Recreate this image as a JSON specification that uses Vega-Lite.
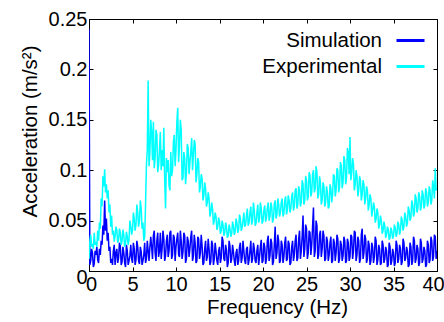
{
  "$schema": "https://vega.github.io/schema/vega-lite/v6.json",
  "width": 348,
  "height": 252,
  "autosize": {"type": "none"},
  "padding": {"left": 89, "top": 19, "right": 7, "bottom": 51},
  "background": "white",
  "config": {
    "font": "Liberation Sans",
    "view": {"stroke": "black", "strokeWidth": 1},
    "axis": {"grid": false, "domainColor": "black", "tickColor": "black", "labelColor": "black", "titleColor": "black", "labelFont": "Liberation Sans", "titleFont": "Liberation Sans", "labelFontSize": 20, "titleFontSize": 20.5, "titleFontWeight": "normal", "tickSize": -4, "labelFlush": false, "labelOverlap": false}
  },
  "data": {"values": [
    {"f":0,"Simulation":0.240,"Experimental":0.012},
    {"f":0.1,"Simulation":0.006,"Experimental":0.030},
    {"f":0.2,"Simulation":0.010,"Experimental":0.036},
    {"f":0.3,"Simulation":0.022,"Experimental":0.024},
    {"f":0.4,"Simulation":0.018,"Experimental":0.027},
    {"f":0.5,"Simulation":0.004,"Experimental":0.022},
    {"f":0.6,"Simulation":0.007,"Experimental":0.038},
    {"f":0.7,"Simulation":0.020,"Experimental":0.026},
    {"f":0.8,"Simulation":0.016,"Experimental":0.029},
    {"f":0.9,"Simulation":0.024,"Experimental":0.024},
    {"f":1.0,"Simulation":0.011,"Experimental":0.040},
    {"f":1.1,"Simulation":0.008,"Experimental":0.030},
    {"f":1.2,"Simulation":0.022,"Experimental":0.048},
    {"f":1.3,"Simulation":0.016,"Experimental":0.042},
    {"f":1.4,"Simulation":0.030,"Experimental":0.072},
    {"f":1.5,"Simulation":0.026,"Experimental":0.064},
    {"f":1.6,"Simulation":0.045,"Experimental":0.094},
    {"f":1.7,"Simulation":0.036,"Experimental":0.084},
    {"f":1.8,"Simulation":0.070,"Experimental":0.101},
    {"f":1.9,"Simulation":0.040,"Experimental":0.078},
    {"f":2.0,"Simulation":0.052,"Experimental":0.086},
    {"f":2.1,"Simulation":0.030,"Experimental":0.072},
    {"f":2.2,"Simulation":0.038,"Experimental":0.080},
    {"f":2.3,"Simulation":0.020,"Experimental":0.058},
    {"f":2.4,"Simulation":0.024,"Experimental":0.066},
    {"f":2.5,"Simulation":0.008,"Experimental":0.044},
    {"f":2.6,"Simulation":0.012,"Experimental":0.055},
    {"f":2.7,"Simulation":0.006,"Experimental":0.036},
    {"f":2.8,"Simulation":0.020,"Experimental":0.040},
    {"f":2.9,"Simulation":0.026,"Experimental":0.029},
    {"f":3.0,"Simulation":0.006,"Experimental":0.035},
    {"f":3.1,"Simulation":0.018,"Experimental":0.044},
    {"f":3.2,"Simulation":0.022,"Experimental":0.040},
    {"f":3.3,"Simulation":0.008,"Experimental":0.028},
    {"f":3.4,"Simulation":0.013,"Experimental":0.031},
    {"f":3.5,"Simulation":0.028,"Experimental":0.042},
    {"f":3.6,"Simulation":0.025,"Experimental":0.038},
    {"f":3.7,"Simulation":0.006,"Experimental":0.026},
    {"f":3.8,"Simulation":0.009,"Experimental":0.030},
    {"f":3.9,"Simulation":0.024,"Experimental":0.041},
    {"f":4.0,"Simulation":0.018,"Experimental":0.036},
    {"f":4.1,"Simulation":0.008,"Experimental":0.024},
    {"f":4.2,"Simulation":0.004,"Experimental":0.027},
    {"f":4.3,"Simulation":0.026,"Experimental":0.039},
    {"f":4.4,"Simulation":0.020,"Experimental":0.034},
    {"f":4.5,"Simulation":0.006,"Experimental":0.026},
    {"f":4.6,"Simulation":0.010,"Experimental":0.031},
    {"f":4.7,"Simulation":0.015,"Experimental":0.050},
    {"f":4.8,"Simulation":0.026,"Experimental":0.045},
    {"f":4.9,"Simulation":0.012,"Experimental":0.036},
    {"f":5.0,"Simulation":0.008,"Experimental":0.040},
    {"f":5.1,"Simulation":0.028,"Experimental":0.058},
    {"f":5.2,"Simulation":0.022,"Experimental":0.052},
    {"f":5.3,"Simulation":0.006,"Experimental":0.040},
    {"f":5.4,"Simulation":0.011,"Experimental":0.046},
    {"f":5.5,"Simulation":0.030,"Experimental":0.066},
    {"f":5.6,"Simulation":0.024,"Experimental":0.058},
    {"f":5.7,"Simulation":0.010,"Experimental":0.044},
    {"f":5.8,"Simulation":0.007,"Experimental":0.050},
    {"f":5.9,"Simulation":0.024,"Experimental":0.070},
    {"f":6.0,"Simulation":0.019,"Experimental":0.062},
    {"f":6.1,"Simulation":0.006,"Experimental":0.042},
    {"f":6.2,"Simulation":0.010,"Experimental":0.048},
    {"f":6.3,"Simulation":0.016,"Experimental":0.030},
    {"f":6.4,"Simulation":0.028,"Experimental":0.034},
    {"f":6.5,"Simulation":0.008,"Experimental":0.066},
    {"f":6.6,"Simulation":0.012,"Experimental":0.105},
    {"f":6.7,"Simulation":0.030,"Experimental":0.120},
    {"f":6.8,"Simulation":0.020,"Experimental":0.189},
    {"f":6.9,"Simulation":0.010,"Experimental":0.104},
    {"f":7.0,"Simulation":0.024,"Experimental":0.118},
    {"f":7.1,"Simulation":0.034,"Experimental":0.150},
    {"f":7.2,"Simulation":0.024,"Experimental":0.138},
    {"f":7.3,"Simulation":0.012,"Experimental":0.110},
    {"f":7.4,"Simulation":0.035,"Experimental":0.148},
    {"f":7.5,"Simulation":0.040,"Experimental":0.102},
    {"f":7.6,"Simulation":0.018,"Experimental":0.112},
    {"f":7.7,"Simulation":0.010,"Experimental":0.140},
    {"f":7.8,"Simulation":0.030,"Experimental":0.135},
    {"f":7.9,"Simulation":0.038,"Experimental":0.098},
    {"f":8.0,"Simulation":0.014,"Experimental":0.105},
    {"f":8.1,"Simulation":0.020,"Experimental":0.120},
    {"f":8.2,"Simulation":0.038,"Experimental":0.138},
    {"f":8.3,"Simulation":0.012,"Experimental":0.100},
    {"f":8.4,"Simulation":0.022,"Experimental":0.120},
    {"f":8.5,"Simulation":0.040,"Experimental":0.104},
    {"f":8.6,"Simulation":0.032,"Experimental":0.142},
    {"f":8.7,"Simulation":0.010,"Experimental":0.090},
    {"f":8.8,"Simulation":0.015,"Experimental":0.062},
    {"f":8.9,"Simulation":0.030,"Experimental":0.112},
    {"f":9.0,"Simulation":0.036,"Experimental":0.098},
    {"f":9.1,"Simulation":0.014,"Experimental":0.110},
    {"f":9.2,"Simulation":0.020,"Experimental":0.085},
    {"f":9.3,"Simulation":0.038,"Experimental":0.080},
    {"f":9.4,"Simulation":0.040,"Experimental":0.118},
    {"f":9.5,"Simulation":0.012,"Experimental":0.094},
    {"f":9.6,"Simulation":0.016,"Experimental":0.100},
    {"f":9.7,"Simulation":0.036,"Experimental":0.128},
    {"f":9.8,"Simulation":0.033,"Experimental":0.135},
    {"f":9.9,"Simulation":0.010,"Experimental":0.104},
    {"f":10.0,"Simulation":0.024,"Experimental":0.120},
    {"f":10.1,"Simulation":0.032,"Experimental":0.148},
    {"f":10.2,"Simulation":0.038,"Experimental":0.162},
    {"f":10.3,"Simulation":0.016,"Experimental":0.108},
    {"f":10.4,"Simulation":0.014,"Experimental":0.125},
    {"f":10.5,"Simulation":0.040,"Experimental":0.150},
    {"f":10.6,"Simulation":0.030,"Experimental":0.140},
    {"f":10.7,"Simulation":0.012,"Experimental":0.090},
    {"f":10.8,"Simulation":0.019,"Experimental":0.092},
    {"f":10.9,"Simulation":0.038,"Experimental":0.118},
    {"f":11.0,"Simulation":0.035,"Experimental":0.112},
    {"f":11.1,"Simulation":0.008,"Experimental":0.086},
    {"f":11.2,"Simulation":0.012,"Experimental":0.098},
    {"f":11.3,"Simulation":0.034,"Experimental":0.126},
    {"f":11.4,"Simulation":0.030,"Experimental":0.122},
    {"f":11.5,"Simulation":0.014,"Experimental":0.096},
    {"f":11.6,"Simulation":0.022,"Experimental":0.108},
    {"f":11.7,"Simulation":0.034,"Experimental":0.118},
    {"f":11.8,"Simulation":0.040,"Experimental":0.132},
    {"f":11.9,"Simulation":0.010,"Experimental":0.100},
    {"f":12.0,"Simulation":0.015,"Experimental":0.115},
    {"f":12.1,"Simulation":0.036,"Experimental":0.130},
    {"f":12.2,"Simulation":0.028,"Experimental":0.126},
    {"f":12.3,"Simulation":0.008,"Experimental":0.088},
    {"f":12.4,"Simulation":0.010,"Experimental":0.096},
    {"f":12.5,"Simulation":0.034,"Experimental":0.112},
    {"f":12.6,"Simulation":0.032,"Experimental":0.108},
    {"f":12.7,"Simulation":0.012,"Experimental":0.078},
    {"f":12.8,"Simulation":0.018,"Experimental":0.084},
    {"f":12.9,"Simulation":0.036,"Experimental":0.096},
    {"f":13.0,"Simulation":0.025,"Experimental":0.092},
    {"f":13.1,"Simulation":0.006,"Experimental":0.070},
    {"f":13.2,"Simulation":0.008,"Experimental":0.075},
    {"f":13.3,"Simulation":0.022,"Experimental":0.088},
    {"f":13.4,"Simulation":0.030,"Experimental":0.082},
    {"f":13.5,"Simulation":0.010,"Experimental":0.064},
    {"f":13.6,"Simulation":0.014,"Experimental":0.068},
    {"f":13.7,"Simulation":0.032,"Experimental":0.078},
    {"f":13.8,"Simulation":0.022,"Experimental":0.072},
    {"f":13.9,"Simulation":0.006,"Experimental":0.054},
    {"f":14.0,"Simulation":0.009,"Experimental":0.058},
    {"f":14.1,"Simulation":0.030,"Experimental":0.068},
    {"f":14.2,"Simulation":0.026,"Experimental":0.062},
    {"f":14.3,"Simulation":0.006,"Experimental":0.046},
    {"f":14.4,"Simulation":0.012,"Experimental":0.050},
    {"f":14.5,"Simulation":0.028,"Experimental":0.058},
    {"f":14.6,"Simulation":0.020,"Experimental":0.054},
    {"f":14.7,"Simulation":0.010,"Experimental":0.041},
    {"f":14.8,"Simulation":0.006,"Experimental":0.044},
    {"f":14.9,"Simulation":0.020,"Experimental":0.053},
    {"f":15.0,"Simulation":0.024,"Experimental":0.049},
    {"f":15.1,"Simulation":0.008,"Experimental":0.037},
    {"f":15.2,"Simulation":0.013,"Experimental":0.040},
    {"f":15.3,"Simulation":0.034,"Experimental":0.050},
    {"f":15.4,"Simulation":0.030,"Experimental":0.046},
    {"f":15.5,"Simulation":0.012,"Experimental":0.035},
    {"f":15.6,"Simulation":0.010,"Experimental":0.038},
    {"f":15.7,"Simulation":0.026,"Experimental":0.048},
    {"f":15.8,"Simulation":0.021,"Experimental":0.044},
    {"f":15.9,"Simulation":0.004,"Experimental":0.033},
    {"f":16.0,"Simulation":0.008,"Experimental":0.035},
    {"f":16.1,"Simulation":0.030,"Experimental":0.046},
    {"f":16.2,"Simulation":0.025,"Experimental":0.042},
    {"f":16.3,"Simulation":0.008,"Experimental":0.034},
    {"f":16.4,"Simulation":0.012,"Experimental":0.037},
    {"f":16.5,"Simulation":0.026,"Experimental":0.049},
    {"f":16.6,"Simulation":0.019,"Experimental":0.045},
    {"f":16.7,"Simulation":0.010,"Experimental":0.036},
    {"f":16.8,"Simulation":0.005,"Experimental":0.039},
    {"f":16.9,"Simulation":0.018,"Experimental":0.052},
    {"f":17.0,"Simulation":0.022,"Experimental":0.048},
    {"f":17.1,"Simulation":0.006,"Experimental":0.038},
    {"f":17.2,"Simulation":0.010,"Experimental":0.041},
    {"f":17.3,"Simulation":0.024,"Experimental":0.056},
    {"f":17.4,"Simulation":0.028,"Experimental":0.052},
    {"f":17.5,"Simulation":0.008,"Experimental":0.040},
    {"f":17.6,"Simulation":0.013,"Experimental":0.043},
    {"f":17.7,"Simulation":0.030,"Experimental":0.050},
    {"f":17.8,"Simulation":0.020,"Experimental":0.058},
    {"f":17.9,"Simulation":0.010,"Experimental":0.044},
    {"f":18.0,"Simulation":0.007,"Experimental":0.046},
    {"f":18.1,"Simulation":0.022,"Experimental":0.055},
    {"f":18.2,"Simulation":0.024,"Experimental":0.062},
    {"f":18.3,"Simulation":0.006,"Experimental":0.045},
    {"f":18.4,"Simulation":0.011,"Experimental":0.048},
    {"f":18.5,"Simulation":0.020,"Experimental":0.058},
    {"f":18.6,"Simulation":0.030,"Experimental":0.064},
    {"f":18.7,"Simulation":0.008,"Experimental":0.046},
    {"f":18.8,"Simulation":0.012,"Experimental":0.050},
    {"f":18.9,"Simulation":0.028,"Experimental":0.068},
    {"f":19.0,"Simulation":0.022,"Experimental":0.060},
    {"f":19.1,"Simulation":0.010,"Experimental":0.045},
    {"f":19.2,"Simulation":0.008,"Experimental":0.047},
    {"f":19.3,"Simulation":0.020,"Experimental":0.058},
    {"f":19.4,"Simulation":0.026,"Experimental":0.066},
    {"f":19.5,"Simulation":0.006,"Experimental":0.048},
    {"f":19.6,"Simulation":0.014,"Experimental":0.052},
    {"f":19.7,"Simulation":0.024,"Experimental":0.068},
    {"f":19.8,"Simulation":0.031,"Experimental":0.062},
    {"f":19.9,"Simulation":0.008,"Experimental":0.047},
    {"f":20.0,"Simulation":0.010,"Experimental":0.050},
    {"f":20.1,"Simulation":0.028,"Experimental":0.060},
    {"f":20.2,"Simulation":0.024,"Experimental":0.065},
    {"f":20.3,"Simulation":0.007,"Experimental":0.049},
    {"f":20.4,"Simulation":0.012,"Experimental":0.053},
    {"f":20.5,"Simulation":0.030,"Experimental":0.063},
    {"f":20.6,"Simulation":0.035,"Experimental":0.068},
    {"f":20.7,"Simulation":0.010,"Experimental":0.050},
    {"f":20.8,"Simulation":0.015,"Experimental":0.054},
    {"f":20.9,"Simulation":0.032,"Experimental":0.068},
    {"f":21.0,"Simulation":0.028,"Experimental":0.064},
    {"f":21.1,"Simulation":0.006,"Experimental":0.048},
    {"f":21.2,"Simulation":0.009,"Experimental":0.052},
    {"f":21.3,"Simulation":0.026,"Experimental":0.066},
    {"f":21.4,"Simulation":0.044,"Experimental":0.070},
    {"f":21.5,"Simulation":0.012,"Experimental":0.052},
    {"f":21.6,"Simulation":0.018,"Experimental":0.056},
    {"f":21.7,"Simulation":0.036,"Experimental":0.072},
    {"f":21.8,"Simulation":0.030,"Experimental":0.066},
    {"f":21.9,"Simulation":0.008,"Experimental":0.054},
    {"f":22.0,"Simulation":0.010,"Experimental":0.058},
    {"f":22.1,"Simulation":0.030,"Experimental":0.068},
    {"f":22.2,"Simulation":0.026,"Experimental":0.072},
    {"f":22.3,"Simulation":0.008,"Experimental":0.054},
    {"f":22.4,"Simulation":0.014,"Experimental":0.057},
    {"f":22.5,"Simulation":0.028,"Experimental":0.070},
    {"f":22.6,"Simulation":0.034,"Experimental":0.074},
    {"f":22.7,"Simulation":0.010,"Experimental":0.056},
    {"f":22.8,"Simulation":0.012,"Experimental":0.060},
    {"f":22.9,"Simulation":0.030,"Experimental":0.075},
    {"f":23.0,"Simulation":0.027,"Experimental":0.070},
    {"f":23.1,"Simulation":0.006,"Experimental":0.058},
    {"f":23.2,"Simulation":0.008,"Experimental":0.062},
    {"f":23.3,"Simulation":0.024,"Experimental":0.074},
    {"f":23.4,"Simulation":0.030,"Experimental":0.078},
    {"f":23.5,"Simulation":0.010,"Experimental":0.060},
    {"f":23.6,"Simulation":0.016,"Experimental":0.064},
    {"f":23.7,"Simulation":0.030,"Experimental":0.080},
    {"f":23.8,"Simulation":0.036,"Experimental":0.082},
    {"f":23.9,"Simulation":0.010,"Experimental":0.062},
    {"f":24.0,"Simulation":0.013,"Experimental":0.066},
    {"f":24.1,"Simulation":0.032,"Experimental":0.084},
    {"f":24.2,"Simulation":0.040,"Experimental":0.080},
    {"f":24.3,"Simulation":0.012,"Experimental":0.064},
    {"f":24.4,"Simulation":0.020,"Experimental":0.068},
    {"f":24.5,"Simulation":0.034,"Experimental":0.090},
    {"f":24.6,"Simulation":0.055,"Experimental":0.086},
    {"f":24.7,"Simulation":0.014,"Experimental":0.066},
    {"f":24.8,"Simulation":0.022,"Experimental":0.070},
    {"f":24.9,"Simulation":0.046,"Experimental":0.094},
    {"f":25.0,"Simulation":0.042,"Experimental":0.090},
    {"f":25.1,"Simulation":0.012,"Experimental":0.070},
    {"f":25.2,"Simulation":0.018,"Experimental":0.074},
    {"f":25.3,"Simulation":0.040,"Experimental":0.098},
    {"f":25.4,"Simulation":0.038,"Experimental":0.095},
    {"f":25.5,"Simulation":0.016,"Experimental":0.074},
    {"f":25.6,"Simulation":0.026,"Experimental":0.078},
    {"f":25.7,"Simulation":0.044,"Experimental":0.096},
    {"f":25.8,"Simulation":0.063,"Experimental":0.100},
    {"f":25.9,"Simulation":0.014,"Experimental":0.078},
    {"f":26.0,"Simulation":0.020,"Experimental":0.082},
    {"f":26.1,"Simulation":0.050,"Experimental":0.104},
    {"f":26.2,"Simulation":0.045,"Experimental":0.098},
    {"f":26.3,"Simulation":0.012,"Experimental":0.072},
    {"f":26.4,"Simulation":0.016,"Experimental":0.076},
    {"f":26.5,"Simulation":0.036,"Experimental":0.094},
    {"f":26.6,"Simulation":0.040,"Experimental":0.088},
    {"f":26.7,"Simulation":0.014,"Experimental":0.066},
    {"f":26.8,"Simulation":0.022,"Experimental":0.070},
    {"f":26.9,"Simulation":0.040,"Experimental":0.088},
    {"f":27.0,"Simulation":0.035,"Experimental":0.084},
    {"f":27.1,"Simulation":0.010,"Experimental":0.064},
    {"f":27.2,"Simulation":0.012,"Experimental":0.068},
    {"f":27.3,"Simulation":0.034,"Experimental":0.084},
    {"f":27.4,"Simulation":0.030,"Experimental":0.078},
    {"f":27.5,"Simulation":0.010,"Experimental":0.062},
    {"f":27.6,"Simulation":0.016,"Experimental":0.064},
    {"f":27.7,"Simulation":0.028,"Experimental":0.086},
    {"f":27.8,"Simulation":0.034,"Experimental":0.082},
    {"f":27.9,"Simulation":0.008,"Experimental":0.068},
    {"f":28.0,"Simulation":0.010,"Experimental":0.076},
    {"f":28.1,"Simulation":0.032,"Experimental":0.096},
    {"f":28.2,"Simulation":0.028,"Experimental":0.094},
    {"f":28.3,"Simulation":0.010,"Experimental":0.074},
    {"f":28.4,"Simulation":0.018,"Experimental":0.080},
    {"f":28.5,"Simulation":0.036,"Experimental":0.102},
    {"f":28.6,"Simulation":0.032,"Experimental":0.100},
    {"f":28.7,"Simulation":0.008,"Experimental":0.078},
    {"f":28.8,"Simulation":0.012,"Experimental":0.084},
    {"f":28.9,"Simulation":0.030,"Experimental":0.108},
    {"f":29.0,"Simulation":0.026,"Experimental":0.104},
    {"f":29.1,"Simulation":0.010,"Experimental":0.082},
    {"f":29.2,"Simulation":0.015,"Experimental":0.088},
    {"f":29.3,"Simulation":0.034,"Experimental":0.114},
    {"f":29.4,"Simulation":0.030,"Experimental":0.110},
    {"f":29.5,"Simulation":0.008,"Experimental":0.086},
    {"f":29.6,"Simulation":0.010,"Experimental":0.092},
    {"f":29.7,"Simulation":0.032,"Experimental":0.122},
    {"f":29.8,"Simulation":0.028,"Experimental":0.118},
    {"f":29.9,"Simulation":0.010,"Experimental":0.096},
    {"f":30.0,"Simulation":0.014,"Experimental":0.133},
    {"f":30.1,"Simulation":0.036,"Experimental":0.090},
    {"f":30.2,"Simulation":0.034,"Experimental":0.098},
    {"f":30.3,"Simulation":0.012,"Experimental":0.112},
    {"f":30.4,"Simulation":0.020,"Experimental":0.106},
    {"f":30.5,"Simulation":0.040,"Experimental":0.080},
    {"f":30.6,"Simulation":0.038,"Experimental":0.086},
    {"f":30.7,"Simulation":0.010,"Experimental":0.100},
    {"f":30.8,"Simulation":0.016,"Experimental":0.094},
    {"f":30.9,"Simulation":0.034,"Experimental":0.074},
    {"f":31.0,"Simulation":0.030,"Experimental":0.080},
    {"f":31.1,"Simulation":0.008,"Experimental":0.094},
    {"f":31.2,"Simulation":0.012,"Experimental":0.090},
    {"f":31.3,"Simulation":0.036,"Experimental":0.070},
    {"f":31.4,"Simulation":0.042,"Experimental":0.076},
    {"f":31.5,"Simulation":0.012,"Experimental":0.090},
    {"f":31.6,"Simulation":0.018,"Experimental":0.086},
    {"f":31.7,"Simulation":0.036,"Experimental":0.066},
    {"f":31.8,"Simulation":0.032,"Experimental":0.072},
    {"f":31.9,"Simulation":0.008,"Experimental":0.084},
    {"f":32.0,"Simulation":0.012,"Experimental":0.080},
    {"f":32.1,"Simulation":0.030,"Experimental":0.060},
    {"f":32.2,"Simulation":0.026,"Experimental":0.066},
    {"f":32.3,"Simulation":0.006,"Experimental":0.076},
    {"f":32.4,"Simulation":0.010,"Experimental":0.072},
    {"f":32.5,"Simulation":0.028,"Experimental":0.054},
    {"f":32.6,"Simulation":0.024,"Experimental":0.060},
    {"f":32.7,"Simulation":0.008,"Experimental":0.068},
    {"f":32.8,"Simulation":0.014,"Experimental":0.064},
    {"f":32.9,"Simulation":0.034,"Experimental":0.048},
    {"f":33.0,"Simulation":0.030,"Experimental":0.052},
    {"f":33.1,"Simulation":0.006,"Experimental":0.062},
    {"f":33.2,"Simulation":0.011,"Experimental":0.058},
    {"f":33.3,"Simulation":0.026,"Experimental":0.042},
    {"f":33.4,"Simulation":0.022,"Experimental":0.046},
    {"f":33.5,"Simulation":0.006,"Experimental":0.055},
    {"f":33.6,"Simulation":0.008,"Experimental":0.050},
    {"f":33.7,"Simulation":0.030,"Experimental":0.037},
    {"f":33.8,"Simulation":0.026,"Experimental":0.040},
    {"f":33.9,"Simulation":0.008,"Experimental":0.049},
    {"f":34.0,"Simulation":0.012,"Experimental":0.045},
    {"f":34.1,"Simulation":0.024,"Experimental":0.033},
    {"f":34.2,"Simulation":0.020,"Experimental":0.036},
    {"f":34.3,"Simulation":0.004,"Experimental":0.044},
    {"f":34.4,"Simulation":0.006,"Experimental":0.041},
    {"f":34.5,"Simulation":0.028,"Experimental":0.031},
    {"f":34.6,"Simulation":0.024,"Experimental":0.033},
    {"f":34.7,"Simulation":0.006,"Experimental":0.043},
    {"f":34.8,"Simulation":0.010,"Experimental":0.040},
    {"f":34.9,"Simulation":0.022,"Experimental":0.032},
    {"f":35.0,"Simulation":0.018,"Experimental":0.035},
    {"f":35.1,"Simulation":0.005,"Experimental":0.046},
    {"f":35.2,"Simulation":0.008,"Experimental":0.043},
    {"f":35.3,"Simulation":0.030,"Experimental":0.034},
    {"f":35.4,"Simulation":0.026,"Experimental":0.037},
    {"f":35.5,"Simulation":0.008,"Experimental":0.049},
    {"f":35.6,"Simulation":0.012,"Experimental":0.046},
    {"f":35.7,"Simulation":0.026,"Experimental":0.036},
    {"f":35.8,"Simulation":0.022,"Experimental":0.040},
    {"f":35.9,"Simulation":0.006,"Experimental":0.054},
    {"f":36.0,"Simulation":0.009,"Experimental":0.050},
    {"f":36.1,"Simulation":0.032,"Experimental":0.040},
    {"f":36.2,"Simulation":0.028,"Experimental":0.044},
    {"f":36.3,"Simulation":0.010,"Experimental":0.058},
    {"f":36.4,"Simulation":0.013,"Experimental":0.054},
    {"f":36.5,"Simulation":0.024,"Experimental":0.044},
    {"f":36.6,"Simulation":0.020,"Experimental":0.048},
    {"f":36.7,"Simulation":0.004,"Experimental":0.064},
    {"f":36.8,"Simulation":0.006,"Experimental":0.060},
    {"f":36.9,"Simulation":0.028,"Experimental":0.050},
    {"f":37.0,"Simulation":0.024,"Experimental":0.053},
    {"f":37.1,"Simulation":0.006,"Experimental":0.070},
    {"f":37.2,"Simulation":0.010,"Experimental":0.066},
    {"f":37.3,"Simulation":0.034,"Experimental":0.054},
    {"f":37.4,"Simulation":0.030,"Experimental":0.058},
    {"f":37.5,"Simulation":0.008,"Experimental":0.076},
    {"f":37.6,"Simulation":0.012,"Experimental":0.072},
    {"f":37.7,"Simulation":0.026,"Experimental":0.058},
    {"f":37.8,"Simulation":0.022,"Experimental":0.062},
    {"f":37.9,"Simulation":0.005,"Experimental":0.078},
    {"f":38.0,"Simulation":0.008,"Experimental":0.074},
    {"f":38.1,"Simulation":0.032,"Experimental":0.060},
    {"f":38.2,"Simulation":0.028,"Experimental":0.064},
    {"f":38.3,"Simulation":0.008,"Experimental":0.080},
    {"f":38.4,"Simulation":0.012,"Experimental":0.076},
    {"f":38.5,"Simulation":0.024,"Experimental":0.062},
    {"f":38.6,"Simulation":0.020,"Experimental":0.066},
    {"f":38.7,"Simulation":0.004,"Experimental":0.082},
    {"f":38.8,"Simulation":0.006,"Experimental":0.078},
    {"f":38.9,"Simulation":0.030,"Experimental":0.064},
    {"f":39.0,"Simulation":0.026,"Experimental":0.068},
    {"f":39.1,"Simulation":0.008,"Experimental":0.084},
    {"f":39.2,"Simulation":0.011,"Experimental":0.080},
    {"f":39.3,"Simulation":0.034,"Experimental":0.066},
    {"f":39.4,"Simulation":0.030,"Experimental":0.070},
    {"f":39.5,"Simulation":0.010,"Experimental":0.090},
    {"f":39.6,"Simulation":0.014,"Experimental":0.084},
    {"f":39.7,"Simulation":0.036,"Experimental":0.072},
    {"f":39.8,"Simulation":0.034,"Experimental":0.102},
    {"f":39.9,"Simulation":0.012,"Experimental":0.080},
    {"f":40.0,"Simulation":0.020,"Experimental":0.082}
  ]},
  "transform": [{"fold": ["Simulation", "Experimental"], "as": ["series", "value"]}],
  "layer": [
    {
      "mark": {"type": "line", "strokeWidth": 1.5, "clip": true},
      "encoding": {
        "x": {"field": "f", "type": "quantitative", "scale": {"domain": [0, 40], "nice": false, "zero": false},
          "axis": {"orient": "bottom", "values": [0,5,10,15,20,25,30,35,40], "format": "~g", "title": "Frequency (Hz)", "labelPadding": 7, "titleX": 188, "titleY": 42, "titleBaseline": "alphabetic", "titleAlign": "center",
            "labelOffset": {"condition": [{"test": "datum.value === 0", "value": 2}, {"test": "datum.value === 40", "value": -4}], "value": 0}}},
        "y": {"field": "value", "type": "quantitative", "scale": {"domain": [0, 0.25], "nice": false},
          "axis": {"orient": "left", "values": [0,0.05,0.1,0.15,0.2,0.25], "format": "~g", "title": "Acceleration (m/s²)", "labelPadding": 6, "titleX": -53, "titleY": 112, "titleBaseline": "alphabetic", "titleAlign": "center",
            "labelOffset": {"condition": {"test": "datum.value === 0", "value": 6}, "value": 0}}},
        "color": {"field": "series", "type": "nominal",
          "scale": {"domain": ["Simulation", "Experimental"], "range": ["#0000ff", "#00ffff"]},
          "legend": {"orient": "none", "legendX": 306, "legendY": 6, "title": null, "symbolType": "stroke", "symbolSize": 784, "symbolStrokeWidth": 3, "labelFontSize": 20.5, "labelFont": "Liberation Sans", "labelColor": "black", "labelAlign": "right", "labelOffset": -44, "rowPadding": 0, "padding": 0, "labelLimit": 300}}
      }
    },
    {
      "mark": {"type": "line", "opacity": 0},
      "encoding": {
        "x": {"field": "f", "type": "quantitative", "axis": {"orient": "top", "values": [0,5,10,15,20,25,30,35,40], "labels": false, "domain": false, "title": null}},
        "y": {"field": "value", "type": "quantitative", "axis": {"orient": "right", "values": [0,0.05,0.1,0.15,0.2,0.25], "labels": false, "domain": false, "title": null}},
        "detail": {"field": "series"}
      }
    }
  ],
  "resolve": {"axis": {"x": "independent", "y": "independent"}}
}
